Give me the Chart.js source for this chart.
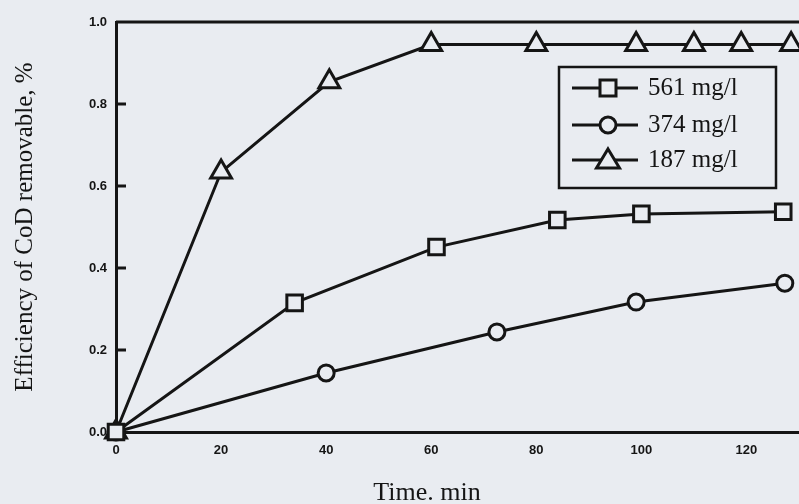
<!DOCTYPE html>
<html>
<head>
<meta charset="utf-8">
<script src="https://cdn.jsdelivr.net/npm/chart.js@4.4.0/dist/chart.umd.min.js"></script>
<style>
  html, body { margin: 0; padding: 0; background: #e9ecf1; }
</style>
</head>
<body>
<canvas id="chart" width="799" height="504"></canvas>
<script>
// data
var seriesLabels = ['561 mg/l', '374 mg/l', '187 mg/l'];

var time561 = [0, 34, 61, 84, 100, 127];
var eff561 = [0, 0.315, 0.451, 0.517, 0.532, 0.537];

var time374 = [0, 40, 72.5, 99, 127.3];
var eff374 = [0, 0.144, 0.244, 0.317, 0.363];

var time187 = [0, 20, 40.6, 60, 80, 99, 110, 119, 128.5];
var eff187 = [0, 0.634, 0.854, 0.945, 0.945, 0.945, 0.945, 0.945, 0.945];

var yTicks = [0, 0.2, 0.4, 0.6, 0.8, 1.0];
var xTicks = [0, 20, 40, 60, 80, 100, 120];
var xTitle = 'Time. min';
var yTitle = 'Efficiency of CoD removable, %';

var paper = '#e9ecf1';
var ink = '#151515';

function toPoints(xs, ys) {
    var pts = [];
    for (var i = 0; i < xs.length; i++) {
        pts.push({ x: xs[i], y: ys[i] });
    }
    return pts;
}

function drawMarker(ctx, style, x, y) {
    ctx.beginPath();
    if (style == 'rect') {
        ctx.rect(x - 8, y - 8, 16, 16);
    } else if (style == 'circle') {
        ctx.arc(x, y, 8, 0, Math.PI * 2);
    } else {
        ctx.moveTo(x, y - 11);
        ctx.lineTo(x + 11.5, y + 8);
        ctx.lineTo(x - 11.5, y + 8);
        ctx.closePath();
    }
    ctx.fillStyle = paper;
    ctx.fill();
    ctx.lineWidth = 3;
    ctx.strokeStyle = ink;
    ctx.stroke();
}

var scanPlugin = {
    id: 'scan',
    beforeDraw: function (chart) {
        var ctx = chart.ctx;
        ctx.save();
        ctx.fillStyle = paper;
        ctx.fillRect(0, 0, chart.width, chart.height);
        ctx.restore();
    },
    afterDraw: function (chart) {
        var ctx = chart.ctx;
        var area = chart.chartArea;
        var yScale = chart.scales.y;
        ctx.save();

        // top frame line
        ctx.strokeStyle = ink;
        ctx.lineWidth = 3;
        ctx.beginPath();
        ctx.moveTo(area.left, area.top);
        ctx.lineTo(area.right, area.top);
        ctx.stroke();

        // inward y ticks
        for (var i = 1; i < yTicks.length - 1; i++) {
            var ty = yScale.getPixelForValue(yTicks[i]);
            ctx.beginPath();
            ctx.moveTo(area.left, ty);
            ctx.lineTo(area.left + 10, ty);
            ctx.stroke();
        }

        // x title sits left of the plot centre in the scan
        ctx.fillStyle = ink;
        ctx.font = '26px "Liberation Serif"';
        ctx.textAlign = 'center';
        ctx.textBaseline = 'alphabetic';
        ctx.fillText(xTitle, 427, 500);

        // legend box
        ctx.lineWidth = 2.5;
        ctx.strokeRect(559, 67, 217, 121);
        var rowY = [88, 125, 160];
        ctx.textAlign = 'left';
        chart.data.datasets.forEach(function (ds, k) {
            var ry = rowY[k];
            ctx.lineWidth = 3;
            ctx.beginPath();
            ctx.moveTo(572, ry);
            ctx.lineTo(638, ry);
            ctx.stroke();
            drawMarker(ctx, ds.pointStyle, 608, ry);
            ctx.fillStyle = ink;
            ctx.font = '25px "Liberation Serif"';
            ctx.textBaseline = 'middle';
            ctx.fillText(ds.label, 648, ry);
        });
        ctx.restore();
    }
};

function makeDataset(label, xs, ys, style, radius) {
    return {
        label: label,
        data: toPoints(xs, ys),
        showLine: true,
        borderColor: ink,
        borderWidth: 3,
        pointStyle: style,
        pointRadius: radius,
        pointHoverRadius: radius,
        pointBorderWidth: 3,
        pointBorderColor: ink,
        pointBackgroundColor: paper
    };
}

var ctx = document.getElementById('chart');
var chart = new Chart(ctx, {
    type: 'scatter',
    data: {
        datasets: [
            makeDataset(seriesLabels[0], time561, eff561, 'rect', 11),
            makeDataset(seriesLabels[1], time374, eff374, 'circle', 8),
            makeDataset(seriesLabels[2], time187, eff187, 'triangle', 12)
        ]
    },
    options: {
        responsive: false,
        animation: false,
        clip: false,
        layout: { autoPadding: false, padding: { top: 22, right: 0, left: 0, bottom: 0 } },
        plugins: {
            legend: { display: false },
            tooltip: { enabled: false }
        },
        scales: {
            x: {
                type: 'linear',
                min: 0,
                max: 130,
                afterBuildTicks: function (scale) {
                    scale.ticks = xTicks.map(function (v) { return { value: v }; });
                },
                afterFit: function (scale) {
                    scale.height = 72;
                    scale.paddingLeft = 0;
                    scale.paddingRight = 0;
                },
                grid: { display: false, drawTicks: false },
                border: { display: true, color: ink, width: 3 },
                ticks: {
                    padding: 11,
                    color: ink,
                    font: { family: 'Liberation Sans', size: 13, weight: 'bold' }
                },
                title: { display: false }
            },
            y: {
                min: 0,
                max: 1.0,
                afterBuildTicks: function (scale) {
                    scale.ticks = yTicks.map(function (v) { return { value: v }; });
                },
                afterFit: function (scale) {
                    scale.width = 116;
                    scale.paddingTop = 0;
                    scale.paddingBottom = 0;
                },
                grid: { display: false, drawTicks: false },
                border: { display: true, color: ink, width: 3 },
                ticks: {
                    padding: 9,
                    color: ink,
                    font: { family: 'Liberation Sans', size: 13, weight: 'bold' },
                    callback: function (v) { return v.toFixed(1); }
                },
                title: {
                    display: true,
                    text: yTitle,
                    color: ink,
                    padding: { top: 10, bottom: 0 },
                    font: { family: 'Liberation Serif', size: 25 }
                }
            }
        }
    },
    plugins: [scanPlugin]
});
</script>
</body>
</html>
